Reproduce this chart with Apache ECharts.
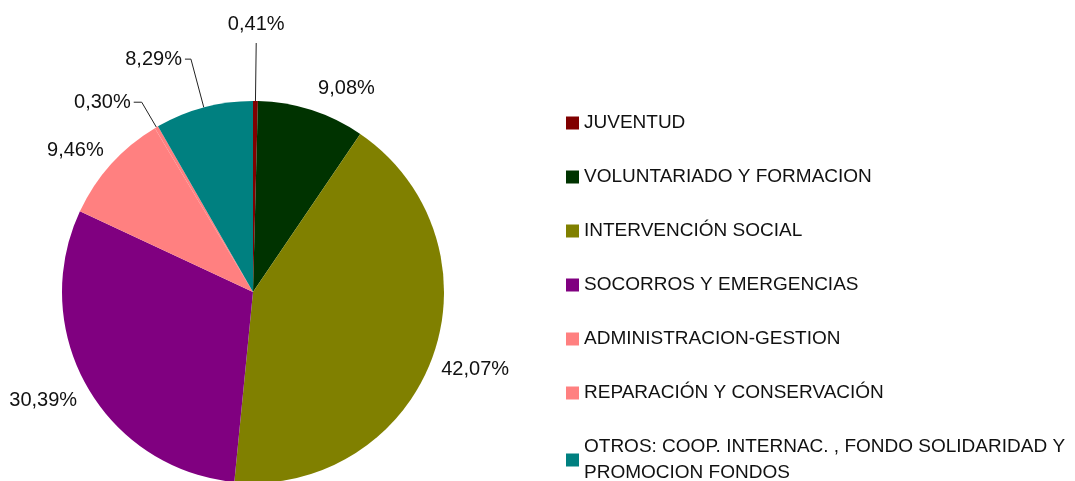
<!DOCTYPE html>
<html>
<head>
<meta charset="utf-8">
<script src="https://cdn.jsdelivr.net/npm/echarts@6/dist/echarts.min.js"></script>
<style>
    html, body { margin: 0; padding: 0; background: #fff; }
    #chart1 { width: 1075px; height: 481px; }
</style>
</head>
<body>
<div id="chart1"></div>
<script>
var categories = ['JUVENTUD', 'VOLUNTARIADO Y FORMACION', 'INTERVENCIÓN SOCIAL', 'SOCORROS Y EMERGENCIAS', 'ADMINISTRACION-GESTION', 'REPARACIÓN Y CONSERVACIÓN', 'OTROS: COOP. INTERNAC. , FONDO SOLIDARIDAD Y PROMOCION FONDOS'];
var values = [0.41, 9.08, 42.07, 30.39, 9.46, 0.30, 8.29];

(function() {
    var colors = ['#800000', '#003300', '#808000', '#800080', '#ff8080', '#ff8080', '#008080'];
    var fontFamily = '"Liberation Sans", Arial, sans-serif';
    // guias para las porciones pequeñas
    var leaderLines = {
        0: { length: 58, length2: 0 },
        5: { length: 29, length2: 8 },
        6: { length: 50, length2: 6 }
    };
    // distancia de las etiquetas sin guia
    var labelGap = { 1: 12, 3: 8 };

    var total = values.reduce(function(a, b) { return a + b; }, 0);
    var upper = [];
    var acc = 0;
    values.forEach(function(v) {
        var mid = (acc + v / 2) / total * Math.PI * 2;
        upper.push(Math.cos(mid) > 0);
        acc += v;
    });

    var pieData = categories.map(function(name, i) {
        var ll = leaderLines[i];
        return {
            name: name,
            value: values[i],
            itemStyle: { color: colors[i] },
            labelLine: ll ? { show: true, length: ll.length, length2: ll.length2 }
                          : { show: false, length: labelGap[i] || 6, length2: 0 }
        };
    });

    var option = {
        animation: false,
        legend: {
            orient: 'vertical',
            left: 566,
            top: 110,
            height: 420,
            padding: 0,
            itemGap: 28,
            itemWidth: 13,
            itemHeight: 13,
            icon: 'rect',
            selectedMode: false,
            textStyle: {
                color: '#111',
                fontSize: 19,
                fontFamily: fontFamily,
                lineHeight: 26,
                width: 490,
                overflow: 'break'
            },
            data: categories
        },
        series: [{
            type: 'pie',
            center: [253, 292],
            radius: 191,
            startAngle: 90,
            clockwise: true,
            avoidLabelOverlap: false,
            label: {
                show: true,
                position: 'outside',
                color: '#111',
                fontSize: 20,
                fontFamily: fontFamily,
                distanceToLabelLine: 3,
                formatter: function(p) {
                    return values[p.dataIndex].toFixed(2).replace('.', ',') + '%';
                }
            },
            labelLine: {
                lineStyle: { color: '#222', width: 1 }
            },
            labelLayout: function(p) {
                var i = p.dataIndex;
                if (i === 0 && p.labelLinePoints) {
                    var pts = p.labelLinePoints;
                    return {
                        x: pts[1][0],
                        y: pts[1][1] - 9,
                        align: 'center',
                        verticalAlign: 'bottom',
                        labelLinePoints: [pts[0], pts[1], pts[1]]
                    };
                }
                if (leaderLines[i]) return {};
                return { verticalAlign: upper[i] ? 'bottom' : 'top' };
            },
            emphasis: { disabled: true },
            data: pieData
        }]
    };

    var chart1 = echarts.init(document.getElementById('chart1'));
    chart1.setOption(option);
    window.onresize = function() {
        chart1.resize();
    };
})();
</script>
</body>
</html>
